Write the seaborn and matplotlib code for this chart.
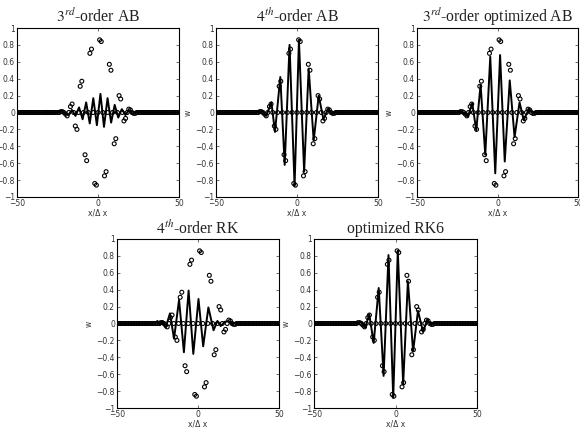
import numpy as np
import pandas as pd
import matplotlib
matplotlib.use("Agg")
import matplotlib.pyplot as plt
import seaborn as sns

# ---------------- data ----------------
titles = [r"$3^{rd}$-order AB", r"$4^{th}$-order AB", r"$3^{rd}$-order optimized AB",
          r"$4^{th}$-order RK", "optimized RK6"]

# exact solution sampled at grid points x/dx = -50..50 (non-zero entries only)
exact_nz_x = [-23, -22, -20, -19, -17, -16, -14, -13, -11, -10, -8, -7, -5, -4, -2, -1,
              1, 2, 4, 5, 7, 8, 10, 11, 13, 14, 16, 17, 19, 20, 22, 23]
exact_nz_w = [0.01, 0.01, -0.02, -0.04, 0.07, 0.10, -0.16, -0.20, 0.31, 0.37, -0.50, -0.57,
              0.70, 0.75, -0.84, -0.86, 0.86, 0.84, -0.75, -0.70, 0.57, 0.50, -0.37, -0.31,
              0.20, 0.16, -0.10, -0.07, 0.04, 0.03, -0.01, -0.01]
grid_x = list(range(-50, 51))

# numerical solutions (read at extrema of the curves)
ab3_x = [-50, -25, -22.5, -20.5, -18.3, -16.1, -13.9, -11.7, -9.5, -7.3, -5.1, -2.9, -0.7,
         1.5, 3.7, 5.9, 8.1, 10.3, 12.5, 14.7, 16.9, 19.1, 21.3, 23.5, 26, 50]
ab3_w = [0, 0, 0.02, -0.01, -0.03, 0.03, -0.04, 0.06, -0.08, 0.12, -0.13, 0.17, -0.15,
         0.22, -0.17, 0.17, -0.12, 0.09, -0.06, 0.04, -0.03, 0.03, -0.02, 0.01, 0, 0]

ab4_x = [-50, -26, -23.5, -21.5, -19.0, -15.8, -13.6, -10.3, -7.6, -4.6, -1.5, 1.2, 4.4,
         7.2, 10.3, 13.4, 16.3, 19.1, 21.5, 24, 26, 50]
ab4_w = [0, 0, 0.005, 0.02, -0.04, 0.12, -0.23, 0.42, -0.62, 0.80, -0.87, 0.86, -0.70,
         0.52, -0.33, 0.20, -0.08, 0.04, -0.015, 0.01, 0, 0]

oab3_x = [-50, -25, -22.5, -20.5, -18.4, -15.7, -13.2, -10.5, -7.6, -4.5, -1.4, 1.6, 4.5,
          7.6, 10.6, 13.7, 16.3, 19.4, 22, 24, 50]
oab3_w = [0, 0, 0.01, -0.01, -0.05, 0.11, -0.21, 0.33, -0.50, 0.66, -0.72, 0.68, -0.58,
          0.38, -0.29, 0.12, -0.09, 0.04, -0.01, 0, 0]

rk4_x = [-50, -27, -25, -23.5, -22, -20, -17.3, -14.8, -11.7, -8.7, -5.8, -2.9, 0.3, 3.2,
         6.4, 9.6, 12, 14, 16.5, 19, 21, 23, 25, 50]
rk4_w = [0, 0, 0.03, -0.02, 0.03, -0.05, 0.12, -0.18, 0.28, -0.34, 0.39, -0.36, 0.29, -0.27,
         0.19, -0.08, 0.03, -0.03, 0.02, 0.03, -0.01, 0.01, 0, 0]

rk6_x = [-50, -25, -23, -21, -18.6, -16.1, -13.4, -10.3, -7.3, -4.3, -1.4, 1.4, 4.7,
         7.6, 10.8, 13.8, 16.9, 19.4, 21.5, 24, 26, 50]
rk6_w = [0, 0, 0.005, 0.02, -0.05, 0.11, -0.23, 0.42, -0.62, 0.81, -0.88, 0.86, -0.72,
         0.50, -0.33, 0.15, -0.10, 0.04, -0.01, 0.01, 0, 0]

curves = [(ab3_x, ab3_w), (ab4_x, ab4_w), (oab3_x, oab3_w), (rk4_x, rk4_w), (rk6_x, rk6_w)]

xticks = [-50, 0, 50]
yticks = [-1, -0.8, -0.6, -0.4, -0.2, 0, 0.2, 0.4, 0.6, 0.8, 1]

# ---------------- style ----------------
sns.set_theme(style="ticks")
plt.rcParams["font.family"] = ["DejaVu Sans"]
plt.rcParams["mathtext.fontset"] = "stix"
plt.rcParams["xtick.direction"] = "in"
plt.rcParams["ytick.direction"] = "in"

exact_lookup = dict(zip(exact_nz_x, exact_nz_w))
exact_df = pd.DataFrame({"x": grid_x, "w": [exact_lookup.get(v, 0.0) for v in grid_x]})

W, H = 580, 432
fig = plt.figure(figsize=(W / 100, H / 100), dpi=100)
fig.patch.set_facecolor("white")

# axes boxes in pixels: left, top, width, height
boxes = [(17, 28, 162, 169), (216, 28, 162, 169), (417, 28, 161, 169),
         (117, 239, 162, 169), (314, 239, 163, 169)]
title_pads = [5, 5, 5, 4, 4]

def fmt(v):
    if v == 0:
        return "0"
    s = f"{v:g}"
    return s.replace("-", "\u2212")

for i, ((l, t, w, h), title) in enumerate(zip(boxes, titles)):
    ax = fig.add_axes([l / W, 1 - (t + h) / H, w / W, h / H])
    ax.set_facecolor("white")
    cx, cw = curves[i]
    df = pd.DataFrame({"x": cx, "w": cw})
    sns.lineplot(data=df, x="x", y="w", ax=ax, color="black", linewidth=1.4,
                 sort=False, estimator=None)
    sns.scatterplot(data=exact_df, x="x", y="w", ax=ax, marker="o", s=8,
                    facecolors="none", edgecolor="black", linewidth=0.8, zorder=3)
    ax.set_xlim(-50, 50)
    ax.set_ylim(-1, 1)
    ax.set_xticks(xticks)
    ax.set_yticks(yticks)
    ax.set_yticklabels([fmt(v) for v in yticks])
    ax.set_xticklabels([fmt(v) for v in xticks])
    ax.tick_params(axis="both", labelsize=5.5, length=2.5, width=0.5, pad=1.5,
                   top=True, right=True, colors="#333333", labelcolor="#333333")
    for s in ax.spines.values():
        s.set_color("black")
        s.set_linewidth(0.8)
    ax.set_xlabel("x/\u0394 x", fontsize=5.5, labelpad=0.5, color="#333333")
    ax.set_ylabel("w", fontsize=5.5, labelpad=2, color="#333333")
    ax.set_title(title, fontsize=11.3, pad=title_pads[i], family="Liberation Serif",
                 color="#222222")

fig.savefig("out.png", dpi=100, facecolor="white")
